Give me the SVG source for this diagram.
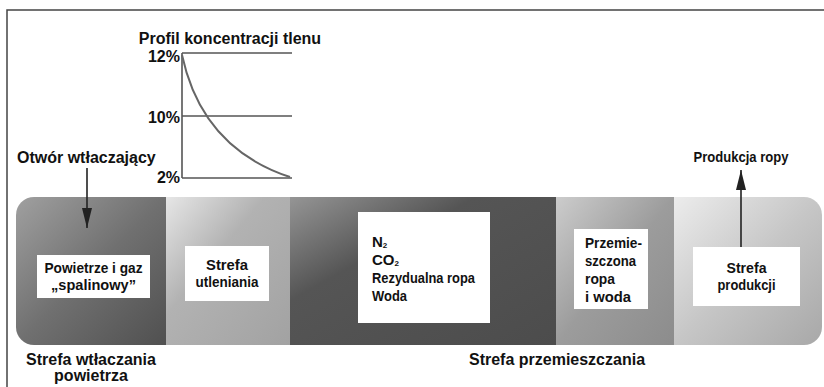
<svg xmlns="http://www.w3.org/2000/svg" width="824" height="387" viewBox="0 0 824 387">
<defs>
<style>
text{font-family:"Liberation Sans",Arial,sans-serif;font-weight:bold;fill:#111}
.lbl{font-size:16px}
.box{font-size:15px}
.sub{font-size:8px}
.wb{fill:#fff}
.chart{stroke:#555;stroke-width:1.6;fill:none}
.conn{stroke:#222;stroke-width:1.6;fill:none}
</style>
<clipPath id="band"><rect x="16" y="197" width="806" height="148" rx="18" ry="18"/></clipPath>
<linearGradient id="g1" x1="0" y1="0" x2="1" y2="1"><stop offset="0" stop-color="#a0a0a0"/><stop offset="0.5" stop-color="#707070"/><stop offset="1" stop-color="#505050"/></linearGradient>
<linearGradient id="g2" x1="0" y1="0" x2="1" y2="1"><stop offset="0" stop-color="#e6e6e6"/><stop offset="0.4" stop-color="#b2b2b2"/><stop offset="1" stop-color="#a2a2a2"/></linearGradient>
<linearGradient id="g3" x1="0" y1="0" x2="1" y2="1"><stop offset="0" stop-color="#959595"/><stop offset="0.35" stop-color="#555"/><stop offset="1" stop-color="#4c4c4c"/></linearGradient>
<linearGradient id="g4" x1="0" y1="0" x2="1" y2="1"><stop offset="0" stop-color="#cccccc"/><stop offset="0.5" stop-color="#9c9c9c"/><stop offset="1" stop-color="#8c8c8c"/></linearGradient>
<linearGradient id="g5" x1="0" y1="0" x2="1" y2="1"><stop offset="0" stop-color="#ececec"/><stop offset="0.5" stop-color="#c6c6c6"/><stop offset="1" stop-color="#a8a8a8"/></linearGradient>
<marker id="ah" viewBox="0 0 20 10" refX="20" refY="5" markerWidth="20" markerHeight="10" markerUnits="userSpaceOnUse" orient="auto"><path d="M0,0 L20,5 L0,10 Z" fill="#222"/></marker>
</defs>

<path d="M7,387 L7,10 H824" fill="none" stroke="#444" stroke-width="1.5"/>

<g id="band-zones" clip-path="url(#band)">
<rect x="16" y="197" width="150" height="148" fill="url(#g1)"/>
<rect x="166" y="197" width="124" height="148" fill="url(#g2)"/>
<rect x="290" y="197" width="266" height="148" fill="url(#g3)"/>
<rect x="556" y="197" width="118" height="148" fill="url(#g4)"/>
<rect x="674" y="197" width="148" height="148" fill="url(#g5)"/>
</g>

<g id="chart">
<text class="lbl" x="230" y="44" text-anchor="middle">Profil koncentracji tlenu</text>
<text class="lbl" x="180" y="62" text-anchor="end">12%</text>
<text class="lbl" x="180" y="123" text-anchor="end">10%</text>
<text class="lbl" x="180" y="183" text-anchor="end">2%</text>
<path class="chart" d="M182,53 V178 M182,53 H292 M182,116 H292 M182,178 H292"/>
<path d="M182,55 Q202,148 290,177" fill="none" stroke="#666" stroke-width="2"/>
</g>

<g id="node-powietrze">
<rect class="wb" x="37" y="255" width="113" height="43"/>
<text class="box" x="93.5" y="273" text-anchor="middle" textLength="98" lengthAdjust="spacingAndGlyphs">Powietrze i gaz</text>
<text class="box" x="93.5" y="290" text-anchor="middle" textLength="85" lengthAdjust="spacingAndGlyphs">„spalinowy”</text>
</g>

<g id="node-utleniania">
<rect class="wb" x="185" y="246" width="84" height="55"/>
<text class="box" x="227" y="270" text-anchor="middle" textLength="42" lengthAdjust="spacingAndGlyphs">Strefa</text>
<text class="box" x="227" y="287" text-anchor="middle" textLength="63" lengthAdjust="spacingAndGlyphs">utleniania</text>
</g>

<g id="node-gazy">
<rect class="wb" x="358" y="212" width="132" height="111"/>
<text class="box" x="372" y="247">N<tspan class="sub" dy="1">2</tspan></text>
<text class="box" x="372" y="265">CO<tspan class="sub" dy="1">2</tspan></text>
<text class="box" x="372" y="283" textLength="103" lengthAdjust="spacingAndGlyphs">Rezydualna ropa</text>
<text class="box" x="372" y="301" textLength="35" lengthAdjust="spacingAndGlyphs">Woda</text>
</g>

<g id="node-przemieszczona">
<rect class="wb" x="574" y="229" width="74" height="80"/>
<text class="box" x="585" y="248" textLength="57" lengthAdjust="spacingAndGlyphs">Przemie-</text>
<text class="box" x="585" y="266" textLength="51" lengthAdjust="spacingAndGlyphs">szczona</text>
<text class="box" x="585" y="284" textLength="30" lengthAdjust="spacingAndGlyphs">ropa</text>
<text class="box" x="585" y="302" textLength="46" lengthAdjust="spacingAndGlyphs">i woda</text>
</g>

<g id="node-produkcji">
<rect class="wb" x="693" y="247" width="107" height="59"/>
<text class="box" x="746.5" y="273" text-anchor="middle" textLength="40" lengthAdjust="spacingAndGlyphs">Strefa</text>
<text class="box" x="746.5" y="290" text-anchor="middle" textLength="58" lengthAdjust="spacingAndGlyphs">produkcji</text>
</g>

<g id="labels">
<text class="lbl" x="17" y="163">Otwór wtłaczający</text>
<text class="box" x="741" y="162" text-anchor="middle" textLength="95" lengthAdjust="spacingAndGlyphs">Produkcja ropy</text>
<text class="lbl" x="91" y="365" text-anchor="middle">Strefa wtłaczania</text>
<text class="lbl" x="91" y="381" text-anchor="middle">powietrza</text>
<text class="lbl" x="557" y="365" text-anchor="middle">Strefa przemieszczania</text>
</g>

<g id="connectors">
<path class="conn" d="M87,168 V228" marker-end="url(#ah)"/>
<path class="conn" d="M741,247 V170" marker-end="url(#ah)"/>
</g>
</svg>
